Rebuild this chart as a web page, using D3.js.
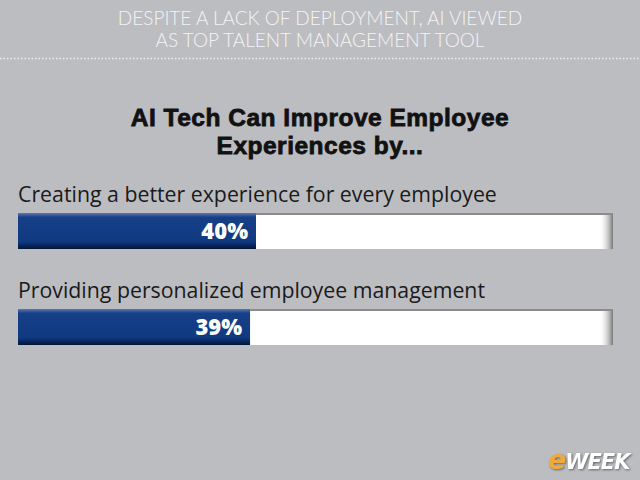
<!DOCTYPE html>
<html>
<head>
<meta charset="utf-8">
<script src="https://cdn.jsdelivr.net/npm/d3@7"></script>
<style>
  html, body { margin: 0; padding: 0; background: #bcbdc1; }
  svg { display: block; }
</style>
</head>
<body>
<svg id="chart" width="640" height="480"></svg>
<script>
const headerLines = ["DESPITE A LACK OF DEPLOYMENT, AI VIEWED", "AS TOP TALENT MANAGEMENT TOOL"];
const titleLines = ["AI Tech Can Improve Employee", "Experiences by..."];
const categories = ["Creating a better experience for every employee", "Providing personalized employee management"];
const values = [40, 39];

const svg = d3.select("#chart");
const W = 640, H = 480;

svg.append("rect").attr("width", W).attr("height", H).attr("fill", "#bcbdc1");

const defs = svg.append("defs");
const blue = defs.append("linearGradient").attr("id", "blueGrad")
    .attr("x1", 0).attr("y1", 0).attr("x2", 0).attr("y2", 1);
blue.append("stop").attr("offset", "0%").attr("stop-color", "#5a78b0");
blue.append("stop").attr("offset", "12%").attr("stop-color", "#163f86");
blue.append("stop").attr("offset", "80%").attr("stop-color", "#0f3a82");
blue.append("stop").attr("offset", "100%").attr("stop-color", "#021437");

const shade = defs.append("linearGradient").attr("id", "trackShade")
    .attr("x1", 0).attr("y1", 0).attr("x2", 1).attr("y2", 0);
shade.append("stop").attr("offset", "0%").attr("stop-color", "#ffffff").attr("stop-opacity", 0);
shade.append("stop").attr("offset", "100%").attr("stop-color", "#777").attr("stop-opacity", 1);

// header
svg.append("g").selectAll("text")
    .data(headerLines)
    .join("text")
    .attr("x", W / 2)
    .attr("y", (d, i) => 25 + i * 22)
    .attr("text-anchor", "middle")
    .attr("font-family", "Lato, 'Open Sans', sans-serif")
    .attr("font-weight", 300)
    .attr("font-size", 19)
    .attr("fill", "#f4f4f4")
    .text(d => d);

svg.append("line")
    .attr("x1", 0).attr("x2", W).attr("y1", 58.5).attr("y2", 58.5)
    .attr("stroke", "#eeeeee").attr("stroke-width", 1.5)
    .attr("stroke-dasharray", "1.5,2");

// title
svg.append("g").selectAll("text")
    .data(titleLines)
    .join("text")
    .attr("x", W / 2)
    .attr("y", (d, i) => 126 + i * 28)
    .attr("text-anchor", "middle")
    .attr("font-family", "'Liberation Sans', Arial, sans-serif")
    .attr("font-weight", "bold")
    .attr("font-size", 24.5)
    .attr("letter-spacing", 0.5)
    .attr("fill", "#111")
    .style("paint-order", "stroke")
    .attr("stroke", "#111")
    .attr("stroke-width", 0.8)
    .text(d => d);

// scales
const x = d3.scaleLinear().domain([0, 100]).range([18, 613]);
const y = d3.scalePoint().domain(categories).range([213, 309]);
const barH = 36;

const rows = svg.append("g").selectAll("g")
    .data(categories)
    .join("g")
    .attr("transform", d => `translate(0,${y(d)})`);

rows.append("text")
    .attr("x", x(0))
    .attr("y", -11)
    .attr("font-family", "'Open Sans', sans-serif")
    .attr("font-size", 21.3)
    .attr("fill", "#1a1a1a")
    .text(d => d);

// track
rows.append("rect")
    .attr("x", x(0)).attr("y", 0)
    .attr("width", x(100) - x(0)).attr("height", barH)
    .attr("fill", "#ffffff");
rows.append("rect")
    .attr("x", x(100) - 14).attr("y", 0)
    .attr("width", 14).attr("height", barH)
    .attr("fill", "url(#trackShade)");
rows.append("rect")
    .attr("x", x(0)).attr("y", 0)
    .attr("width", x(100) - x(0)).attr("height", 2)
    .attr("fill", "#8c8c8c");

// value bars
rows.append("rect")
    .attr("x", x(0)).attr("y", 0)
    .attr("width", (d, i) => x(values[i]) - x(0))
    .attr("height", barH)
    .attr("fill", "url(#blueGrad)");

rows.append("text")
    .attr("x", (d, i) => x(values[i]) - 8)
    .attr("y", barH / 2 + 8)
    .attr("text-anchor", "end")
    .attr("font-family", "'Open Sans', sans-serif")
    .attr("font-weight", 800)
    .attr("font-size", 22)
    .attr("fill", "#ffffff")
    .text((d, i) => values[i] + "%");

// logo
const logo = svg.append("text")
    .attr("x", 548).attr("y", 469)
    .attr("font-family", "'DejaVu Sans', sans-serif")
    .attr("font-weight", "bold")
    .attr("font-style", "italic")
    .attr("letter-spacing", -1)
    .style("filter", "drop-shadow(1px 1px 1px rgba(0,0,0,0.45))");
logo.append("tspan").attr("fill", "#f0a93a").attr("font-size", 27).text("e");
logo.append("tspan").attr("fill", "#ffffff").attr("font-size", 21).text("WEEK");
</script>
</body>
</html>
